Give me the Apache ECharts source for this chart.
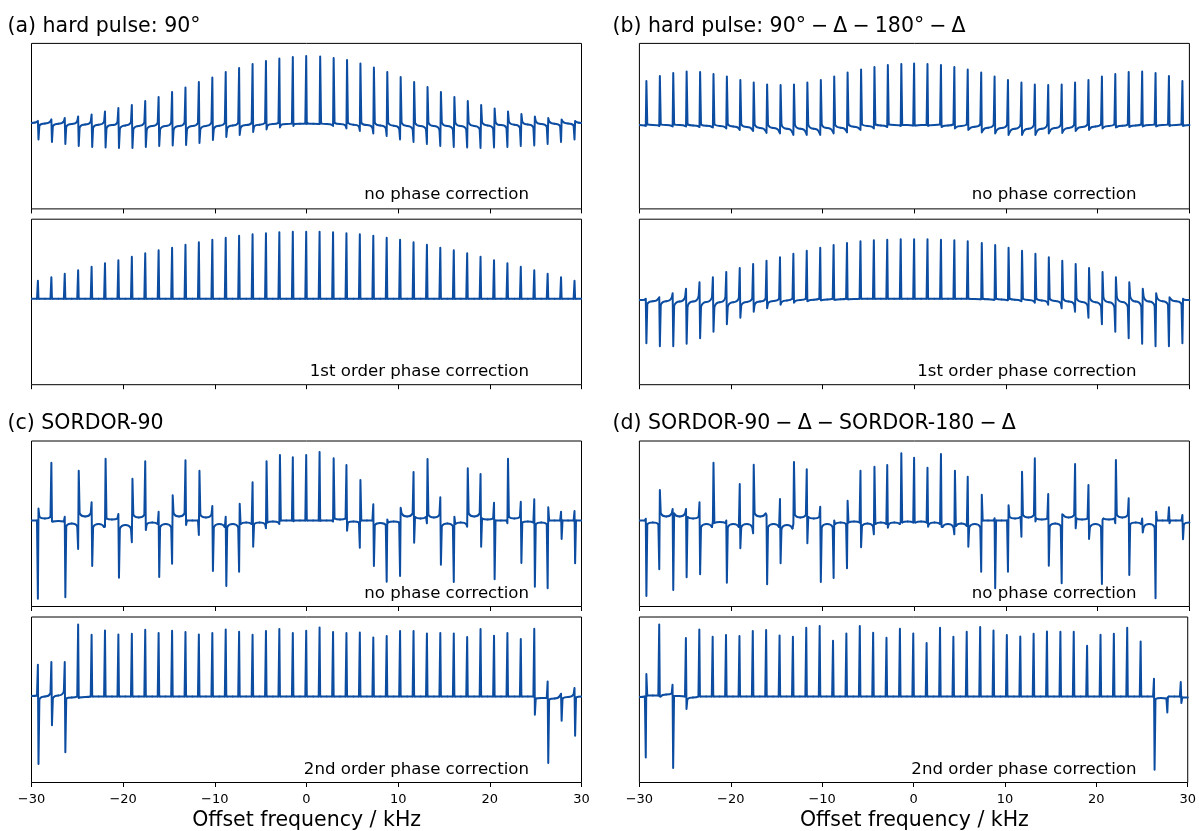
<!DOCTYPE html>
<html>
<head>
<meta charset="utf-8">
<title>Offset sweep spectra</title>
<script src="https://cdn.jsdelivr.net/npm/echarts/dist/echarts.min.js"></script>
<style>
  html, body { margin: 0; padding: 0; background: #fff; }
  #main { width: 1199px; height: 831px; }
</style>
</head>
<body>
<div id="main"></div>
<script>
// peak positions (kHz), same for every panel
const peakPos = [-29.27, -27.80, -26.34, -24.88, -23.41, -21.95, -20.49, -19.02, -17.56, -16.10,
  -14.63, -13.17, -11.71, -10.24, -8.78, -7.32, -5.85, -4.39, -2.93, -1.46,
  0, 1.46, 2.93, 4.39, 5.85, 7.32, 8.78, 10.24, 11.71, 13.17,
  14.63, 16.10, 17.56, 19.02, 20.49, 21.95, 23.41, 24.88, 26.34, 27.80, 29.27];

// flat baseline
const flat41 = [0,0,0,0,0,0,0,0,0,0, 0,0,0,0,0,0,0,0,0,0, 0,0,0,0,0,0,0,0,0,0, 0,0,0,0,0,0,0,0,0,0, 0];
const flat42 = [0,0,0,0,0,0,0,0,0,0, 0,0,0,0,0,0,0,0,0,0, 0,0,0,0,0,0,0,0,0,0, 0,0,0,0,0,0,0,0,0,0, 0,0];

// (a) hard pulse 90, no phase correction
const A1_top = [2,3.5,5,6.5,8.5,11.5,15,18,22,26, 31,35.5,41,45.5,51,55,59,62,64.5,66, 67,66.5,65,63,59.5,55.5,51,46,41,36, 31,26,22,18,14.5,11.5,9,6.5,5,3.5, 2];
const A1_bot = [-16.5,-19,-21,-23,-24,-24.5,-25,-25,-24,-23, -22.5,-22,-20,-17,-14,-12,-9,-6.5,-4.5,-3, -1,-1,-3,-5.5,-8,-10.5,-13,-16.5,-19,-21, -23,-24,-24.5,-25,-24.5,-24,-23,-22.5,-21,-19, -16.5];
const A1_pre = [1,1.5,1.5,1.5,1,1,0.5,0.5,0,0, 0,0,0,0,0,0,0,0,0,-0.5, -0.5,-1,-2,-2.5,-3.5,-4.5,-5,-5.5,-6,-6.5, -6.5,-6.5,-6.5,-6,-5.5,-5,-4.5,-4,-3.5,-3, -2.5];
const A1_post = [-2.5,-3,-3.5,-4,-4.5,-5,-5.5,-6,-6.5,-6.5, -6.5,-6.5,-6,-5.5,-5,-4.5,-3.5,-2.5,-2,-1, -0.5,-0.5,0,0,0,0,0,0,0,0, 0,0,0,0.5,0.5,1,1,1.5,1.5,1.5, 1];
const A1_mid = [0,-0.5,-0.8,-1,-1.5,-1.8,-2.2,-2.5,-3,-3.2, -3.2,-3.2,-3.2,-3,-2.8,-2.5,-2.2,-1.8,-1.2,-1.2, -0.8,-0.8,-1.2,-1.2,-1.8,-2.2,-2.5,-2.8,-3,-3.2, -3.2,-3.2,-3.2,-3,-2.5,-2.2,-1.8,-1.5,-1,-0.8, -0.5,0];

// (a) 1st order phase correction
const A2_top = [18,21.5,25,28.5,32,35.5,38.5,42,45.5,48.5, 51,54,56.5,59,61,63,64.5,65.5,66.5,67, 67,67,66.5,65.5,64.5,63,61,59,56.5,54, 51,48.5,45.5,42,38.5,35.5,32,28.5,25,21.5, 18];

// (b) hard pulse 90-D-180-D, no phase correction
const B1_top = [41.8,46.8,50,51.5,51,49,46.5,42.8,40.5,38.5, 37.8,38.5,40.5,43,46.5,50.5,53.5,56,57.8,59, 59.5,59,57.8,56,53.5,50.5,46.5,43,40.5,38.5, 37.8,38.5,40.5,42.8,46.5,49,51,51.5,50,46.8, 41.8];
const B1_bot = [-3,-3,-3.5,-3.5,-4,-4.5,-5.5,-7,-8,-10, -10.5,-12,-12,-12,-10.5,-9.5,-7,-5.5,-4,-3, -2.5,-3,-4,-5.5,-7,-9.5,-10.5,-12,-12,-12, -10.5,-10,-8,-7,-5.5,-4.5,-4,-3.5,-3.5,-3, -3];
const B1_pre = [-2.5,-2.5,-3,-3,-3.5,-4,-4.5,-5.5,-6.5,-8, -8.5,-9.5,-9.5,-9.5,-8.5,-7.5,-6,-4.5,-3.5,-2.5, -2.5,-2,-1.5,-1.5,-1.5,-1.5,-2,-2,-2,-2, -2,-2,-2,-1.5,-1.5,-1.5,-1.5,-1.5,-1.5,-1.5, -1.5];
const B1_post = [-1.5,-1.5,-1.5,-1.5,-1.5,-1.5,-1.5,-1.5,-2,-2, -2,-2,-2,-2,-2,-1.5,-1.5,-1.5,-1.5,-2, -2.5,-2.5,-3.5,-4.5,-6,-7.5,-8.5,-9.5,-9.5,-9.5, -8.5,-8,-6.5,-5.5,-4.5,-4,-3.5,-3,-3,-2.5, -2.5];
const B1_mid = [-2.2,-2,-2.2,-2.2,-2.5,-2.8,-3,-3.5,-4,-5, -5.2,-5.8,-5.8,-5.8,-5.2,-4.8,-3.8,-3,-2.5,-2, -2.2,-2.2,-2,-2.5,-3,-3.8,-4.8,-5.2,-5.8,-5.8, -5.8,-5.2,-5,-4,-3.5,-3,-2.8,-2.5,-2.2,-2.2, -2,-2.2];

// (b) 1st order phase correction
const B2_top = [0,1.5,5.5,10,16.5,21.5,26.8,30.8,34.8,38, 41.5,45,48,51,53.8,55.8,57.5,58.5,59,59.5, 59.5,59.5,59,58.5,57.5,55.8,53.8,51,48,45, 41.5,38,34.8,30.8,26.8,21.5,16.5,10,5.5,1.5, 0];
const B2_bot = [-44.5,-47.5,-47.5,-45,-39.5,-33,-25.5,-19,-13,-9.5, -6,-4,-2.5,-1.5,-1,-0.5,0,0,0,0, 0,0,0,0,0,-0.5,-1,-1.5,-2.5,-4, -6,-9.5,-13,-19,-25.5,-33,-39.5,-45,-47.5,-47.5, -44.5];
const B2_pre = [-1,0,1,1.5,2,1.5,1,0.5,0,0, 0,0,0,0,0,0,0,0,0,0, 0,0,0,0,0,-0.5,-1,-1.5,-2,-2.5, -3.5,-4.5,-5.5,-6.5,-7.5,-8,-8,-7.5,-7,-6, -5];
const B2_post = [-5,-6,-7,-7.5,-8,-8,-7.5,-6.5,-5.5,-4.5, -3.5,-2.5,-2,-1.5,-1,-0.5,0,0,0,0, 0,0,0,0,0,0,0,0,0,0, 0,0,0,0.5,1,1.5,2,1.5,1,0, -1];
const B2_mid = [-1.2,-2.5,-2.5,-2.8,-2.8,-3.2,-3.5,-3.5,-3.2,-2.8, -2.2,-1.8,-1.2,-1,-0.8,-0.5,-0.2,0,0,0, 0,0,0,0,0,-0.2,-0.5,-0.8,-1,-1.2, -1.8,-2.2,-2.8,-3.2,-3.5,-3.5,-3.2,-2.8,-2.8,-2.5, -2.5,-1.2];

// (c) SORDOR-90, no phase correction
const C1_top = [12,57.8,3.8,49.8,18.2,61.8,6.5,41.8,59.2,8.8, 25.2,60.2,49.8,14.5,3.8,16.8,38.2,59.2,65.5,63.2, 65.5,68.5,62.2,55.5,40.5,16.2,1,12.8,48.5,61.5, 23.2,3.8,52.2,46.5,17.8,61.8,18.8,21.2,13.2,8.8, 9.5];
const C1_bot = [-78.2,-1,-76.8,-28.5,-45.5,-6.2,-57.2,-21.8,-9.5,-56.5, -43.2,-4.5,-14.5,-50.5,-65.5,-51.2,-26.2,-7.8,-3.5,-0.8, 0,-0.5,-1,-10.2,-27.2,-45.5,-61.2,-55.5,-22.2,-2.8, -44.2,-61.5,-6.2,-26.2,-58.8,-2.8,-42.5,-66.2,-67.8,-18.5, -42.8];
const C1_pre = [0,3.5,-1,-5.5,7,-6.5,2,-8,5.5,-3.5, -6.5,7,0,5.5,-6.5,-6.5,-3.5,-3.5,-2,0, 0,0,0,2,-2,0,-4.5,-2,7,3.5, 5.5,-5.5,-3.5,7,2,0,3.5,-2,-3.5,0, 0];
const C1_post = [3.5,-1,-5.5,7,-6.5,2,-8,5.5,-3.5,-6.5, 7,0,5.5,-6.5,-6.5,-3.5,-3.5,-2,0,0, 0,0,2,-2,0,-4.5,-2,7,3.5,5.5, -5.5,-3.5,7,2,0,3.5,-2,-3.5,0,0, 0];
const C1_mid = [0,2,-0.5,-3,4,-3.5,1,-4.5,3,-2, -3.5,4,0,3,-3.5,-3.5,-2,-2,-1,0, 0,0,0,1,-1,0,-2.5,-1,4,2, 3,-3,-2,4,1,0,2,-1,-2,0, 0,0];

// (c) 2nd order phase correction
const C2_top = [31.8,34.5,34.5,72.1,61.8,66.1,62.1,62.8,66.8,63.5, 65.8,64.5,62.1,63.5,67.1,64.8,61.8,65.5,67.5,63.5, 65.8,69.1,64.5,63.5,64.1,59.1,60.5,65.5,65.5,63.1, 63.5,63.1,59.5,67.5,60.8,63.5,57.5,67.8,15.1,2.8, 8.5];
const C2_bot = [-67.5,-28.8,-55.8,-1.5,0,0,0,0,0,0, 0,0,0,0,0,0,0,0,0,0, 0,0,0,0,0,0,0,0,0,0, 0,0,0,0,0,0,0,-18.2,-66.5,-24.2, -39.2];
const C2_pre = [1,3,5,0,0,0,0,0,0,0, 0,0,0,0,0,0,0,0,0,0, 0,0,0,0,0,0,0,0,0,0, 0,0,0,0,0,0,0,0,-1.5,1, 2];
const C2_post = [-2.5,-1.5,-2,-1,0,0,0,0,0,0, 0,0,0,0,0,0,0,0,0,0, 0,0,0,0,0,0,0,0,0,0, 0,0,0,0,0,0,0,-2,-3,-2, -1];
const C2_mid = [0.5,0,1,-1,-0.5,0,0,0,0,0, 0,0,0,0,0,0,0,0,0,0, 0,0,0,0,0,0,0,0,0,0, 0,0,0,0,0,0,0,0,-1.5,-2, -0.5,0];

// (d) SORDOR-90-D-SORDOR-180-D, no phase correction
const D1_top = [1.8,30.5,11.5,11.5,18.2,57.8,0,36.5,55.8,5.5, 21.5,58.5,51.2,13.8,0,19.8,49.8,53.8,55.5,67.2, 62.8,52.8,66.5,49.8,43.8,25.8,2.2,15.2,48.8,62.2, 26.5,6.2,56.5,35.5,0.5,60.5,22.2,2,8.8,13.2, 5.5];
const D1_bot = [-75.5,-48.8,-69.5,-56.8,-53.8,-1,-62.2,-27.8,-12.8,-63.8, -42.8,-3.5,-22.8,-61.5,-57.5,-47.8,-26.8,-13.8,-7.2,-1, -2,-6.2,-6.2,-13.8,-26.2,-51.2,-67.8,-51.2,-16.2,-1, -45.2,-62.8,-7.8,-18.5,-63.5,-2.8,-54.5,-12,-77.8,-2.8, -18.8];
const D1_pre = [0,-3.5,7,7,3.5,-6.5,-2.5,-6.5,-6.5,7, -6.5,-8,5.5,3.5,-6.5,-3.5,-2,-5.5,-3.5,-3.5, -2,-2,-3.5,-6.5,-5.5,-6.5,0,0,3.5,5.5, 2,-5.5,5.5,2,-6.5,2,5.5,-3.5,-6.5,0, 0];
const D1_post = [-3.5,7,7,3.5,-6.5,-2.5,-6.5,-6.5,7,-6.5, -8,5.5,3.5,-6.5,-3.5,-2,-5.5,-3.5,-3.5,-2, -2,-3.5,-6.5,-5.5,-6.5,0,0,3.5,5.5,2, -5.5,5.5,2,-6.5,2,5.5,-3.5,-6.5,0,0, -3.5];
const D1_mid = [0,-2,4,4,2,-3.5,-1.5,-3.5,-3.5,4, -3.5,-4.5,3,2,-3.5,-2,-1,-3,-2,-2, -1,-1,-2,-3.5,-3,-3.5,0,0,2,3, 1,-3,3,1,-3.5,1,3,-2,-3.5,0, 0,-2];

// (d) 2nd order phase correction
const D2_top = [22.5,72.1,11.8,58.5,67.1,59.8,61.5,60.5,65.5,66.5, 61.1,59.8,68.8,70.5,55.8,63.1,70.5,63.8,58.8,67.8, 63.1,53.5,68.8,59.8,64.8,69.5,66.1,61.5,60.1,62.8, 65.1,64.8,64.8,50.8,61.8,62.8,68.8,55.1,17.8,-0.5, 14.5];
const D2_bot = [-60.9,0,-71.5,-12.5,0,0,0,0,0,0, 0,0,0,0,0,0,0,0,0,0, 0,0,0,0,0,0,0,0,0,0, 0,0,0,0,0,0,0,0,-73.2,-15.9, -6.5];
const D2_pre = [0,1,3,0,0,0,0,0,0,0, 0,0,0,0,0,0,0,0,0,0, 0,0,0,0,0,0,0,0,0,0, 0,0,0,0,0,0,0,0,0,-2, 0];
const D2_post = [1,0,0.5,-2.5,0,0,0,0,0,0, 0,0,0,0,0,0,0,0,0,0, 0,0,0,0,0,0,0,0,0,0, 0,0,0,0,0,0,0,0,-2.5,0, -1];
const D2_mid = [-0.5,1,2,0.5,-1,0,0,0,0,0, 0,0,0,0,0,0,0,0,0,0, 0,0,0,0,0,0,0,0,0,0, 0,0,0,0,0,0,0,0,0,-1.5, 0,-1];

const LINE_COLOR = '#0c4da2';
const FONT = '"DejaVu Sans", "Noto Sans", sans-serif';
const colLeft = [31.5, 639.4];
const colWidth = 550;
const rowTop = [43.4, 219.2, 441.0, 617.0];
const rowHeight = 165.5;

const panels = [
  { col: 0, row: 0, top: A1_top, bot: A1_bot, pre: A1_pre, post: A1_post, mid: A1_mid, note: 'no phase correction' },
  { col: 0, row: 1, top: A2_top, bot: flat41, pre: flat41, post: flat41, mid: flat42, note: '1st order phase correction' },
  { col: 1, row: 0, top: B1_top, bot: B1_bot, pre: B1_pre, post: B1_post, mid: B1_mid, note: 'no phase correction' },
  { col: 1, row: 1, top: B2_top, bot: B2_bot, pre: B2_pre, post: B2_post, mid: B2_mid, note: '1st order phase correction' },
  { col: 0, row: 2, top: C1_top, bot: C1_bot, pre: C1_pre, post: C1_post, mid: C1_mid, note: 'no phase correction' },
  { col: 0, row: 3, top: C2_top, bot: C2_bot, pre: C2_pre, post: C2_post, mid: C2_mid, note: '2nd order phase correction' },
  { col: 1, row: 2, top: D1_top, bot: D1_bot, pre: D1_pre, post: D1_post, mid: D1_mid, note: 'no phase correction' },
  { col: 1, row: 3, top: D2_top, bot: D2_bot, pre: D2_pre, post: D2_post, mid: D2_mid, note: '2nd order phase correction' }
];

// one item per peak: position, extremes, feet, gap levels and gap positions
function buildItems(p) {
  const n = peakPos.length;
  return peakPos.map((x, k) => [
    x, p.top[k], p.bot[k], p.pre[k], p.post[k], p.mid[k], p.mid[k + 1],
    k === 0 ? -30 : (peakPos[k - 1] + x) / 2,
    k === n - 1 ? 30 : (x + peakPos[k + 1]) / 2
  ]);
}

function drawPeak(params, api) {
  const x = api.value(0);
  const top = api.value(1), bot = api.value(2), pre = api.value(3), post = api.value(4);
  const px = api.coord([x, 0])[0];
  const yOf = v => api.coord([x, v])[1];
  const L = api.coord([api.value(7), api.value(5)]);
  const R = api.coord([api.value(8), api.value(6)]);
  const fL = [px - 1.2, yOf(pre)];
  const fR = [px + 1.2, yOf(post)];
  const yTop = yOf(top), yBot = yOf(bot);
  const spike = pre >= post
    ? [fL, [px - 0.3, yTop], [px + 0.3, yBot], fR]
    : [fL, [px - 0.3, yBot], [px + 0.3, yTop], fR];
  const st = () => ({ stroke: LINE_COLOR, lineWidth: 2, fill: 'none', lineJoin: 'round', lineCap: 'round' });
  return {
    type: 'group',
    children: [
      { type: 'bezierCurve', shape: { x1: L[0], y1: L[1], x2: fL[0], y2: fL[1], cpx1: fL[0] - 1.5, cpy1: L[1] }, style: st() },
      { type: 'polyline', shape: { points: spike }, style: st() },
      { type: 'bezierCurve', shape: { x1: fR[0], y1: fR[1], x2: R[0], y2: R[1], cpx1: fR[0] + 1.5, cpy1: R[1] }, style: st() }
    ]
  };
}

const grids = [], xAxes = [], yAxes = [], series = [];
panels.forEach((p, i) => {
  grids.push({
    left: colLeft[p.col], top: rowTop[p.row], width: colWidth, height: rowHeight,
    show: true, borderColor: '#000', borderWidth: 1, backgroundColor: 'transparent'
  });
  xAxes.push({
    type: 'value', gridIndex: i, min: -30, max: 30, interval: 10, position: 'bottom',
    axisLine: { show: false, onZero: false },
    axisTick: { show: true, inside: false, length: 4.5, lineStyle: { color: '#000', width: 1 } },
    axisLabel: {
      show: p.row === 3, margin: 10.5, color: '#000', fontSize: 13, fontFamily: FONT,
      formatter: v => (v < 0 ? '\u2212' + Math.abs(v) : String(v))
    },
    splitLine: { show: false }
  });
  yAxes.push({ type: 'value', gridIndex: i, min: -86, max: 79.5, show: false });
  series.push({
    type: 'custom', xAxisIndex: i, yAxisIndex: i, renderItem: drawPeak,
    data: buildItems(p), clip: true, silent: true, animation: false
  });
});

function label(x, y, text, size, align) {
  return {
    type: 'text', x: x, y: y, silent: true,
    style: {
      text: text, fill: '#000', font: size + 'px ' + FONT,
      align: align, textAlign: align, verticalAlign: 'middle', textVerticalAlign: 'middle'
    }
  };
}

const sp = '\u2005';
const texts = [
  label(7.5, 26.5, '(a) hard pulse: 90°', 20.5, 'left'),
  label(612.5, 26.5, '(b) hard pulse: 90°' + sp + '\u2212' + sp + '\u0394' + sp + '\u2212' + sp + '180°' + sp + '\u2212' + sp + '\u0394', 20.5, 'left'),
  label(7.5, 423.5, '(c) SORDOR-90', 20.5, 'left'),
  label(612.5, 423.5, '(d) SORDOR-90' + sp + '\u2212' + sp + '\u0394' + sp + '\u2212' + sp + 'SORDOR-180' + sp + '\u2212' + sp + '\u0394', 20.5, 'left'),
  label(306.6, 820.5, 'Offset frequency / kHz', 20.5, 'center'),
  label(914.4, 820.5, 'Offset frequency / kHz', 20.5, 'center')
];
const noteRight = [529, 1136.5];
const noteY = [195, 372, 593.5, 770];
panels.forEach(p => texts.push(label(noteRight[p.col], noteY[p.row], p.note, 16.6, 'right')));

const chart = echarts.init(document.getElementById('main'), null, { renderer: 'canvas' });
chart.setOption({
  animation: false,
  backgroundColor: '#fff',
  grid: grids,
  xAxis: xAxes,
  yAxis: yAxes,
  series: series,
  graphic: texts
});
</script>
</body>
</html>
